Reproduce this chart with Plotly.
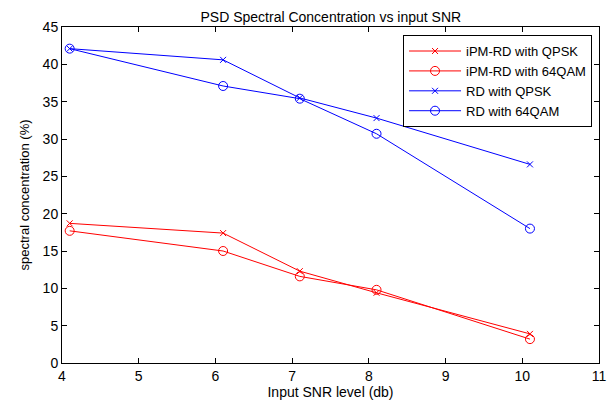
import plotly.graph_objects as go

snr = [4.1, 6.1, 7.1, 8.1, 10.1]
ipm_qpsk = [18.7, 17.4, 12.3, 9.4, 3.9]
ipm_64qam = [17.7, 15.0, 11.6, 9.8, 3.2]
rd_qpsk = [42.1, 40.6, 35.5, 32.8, 26.6]
rd_64qam = [42.1, 37.1, 35.4, 30.7, 18.0]

series = [
    ("iPM-RD with QPSK", ipm_qpsk, "#ff0000", "x-thin-open", 6),
    ("iPM-RD with 64QAM", ipm_64qam, "#ff0000", "circle-open", 9),
    ("RD with QPSK", rd_qpsk, "#0000ff", "x-thin-open", 6),
    ("RD with 64QAM", rd_64qam, "#0000ff", "circle-open", 9),
]

FONT = "Arial, 'Liberation Sans', sans-serif"

fig = go.Figure()
for name, vals, col, sym, sz in series:
    fig.add_trace(go.Scatter(
        x=snr, y=vals, name=name, mode="lines+markers",
        line=dict(color=col, width=1),
        marker=dict(symbol=sym, size=sz, color=col, line=dict(color=col, width=1)),
    ))

axis_common = dict(
    showline=True, linecolor="black", linewidth=1, mirror="ticks",
    ticks="inside", ticklen=5, tickcolor="black", showgrid=False, zeroline=False,
    automargin=False,
    tickfont=dict(family=FONT, size=14, color="black"),
)

# page body has an 8px default margin, so the figure is sized to fit the window
fig.update_layout(
    width=608, height=395,
    margin=dict(l=54, r=17, t=19, b=40, autoexpand=False),
    paper_bgcolor="white", plot_bgcolor="white",
    font=dict(family=FONT, color="black"),
    title=dict(text="PSD Spectral Concentration vs input SNR", x=0.531, xanchor="center",
               y=0.977, yanchor="middle", automargin=False,
               font=dict(family=FONT, size=14, color="black")),
    xaxis=dict(range=[4, 11], dtick=1, tick0=4,
               title=dict(text="Input SNR level (db)", standoff=3,
                          font=dict(family=FONT, size=14, color="black")),
               **axis_common),
    yaxis=dict(range=[0, 45], dtick=5, tick0=0,
               title=dict(text="spectral concentration (%)", standoff=10,
                          font=dict(family=FONT, size=13, color="black")),
               **axis_common),
    legend=dict(x=0.987, y=0.976, xanchor="right", yanchor="top",
                bgcolor="white", bordercolor="black", borderwidth=1,
                font=dict(family=FONT, size=13, color="black"),
                tracegroupgap=0, itemwidth=52),
    showlegend=True,
)

fig.write_html("out.html")
